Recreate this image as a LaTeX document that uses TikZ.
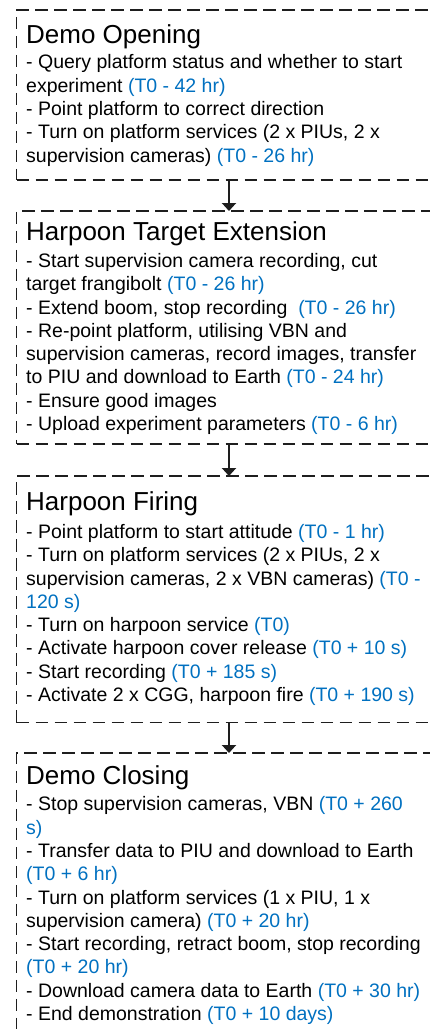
\documentclass[tikz,border=0pt]{standalone}
\usepackage{fontspec}
\setmainfont{Liberation Sans}
\usetikzlibrary{arrows.meta,positioning}
\definecolor{ink}{RGB}{30,30,30}
\definecolor{tblue}{RGB}{0,112,192}
\tikzset{
  phase/.style={draw=ink,line width=1.3pt,dash pattern=on 12.5pt off 6.5pt,
    minimum width=424.6pt,inner sep=0pt,outer sep=0pt,anchor=north west},
  phasename/.style={anchor=base west,inner sep=0pt,font=\fontsize{26}{30}\selectfont},
  % base of a multi-line node is its last line
  steps/.style={anchor=base west,inner sep=0pt,align=left,
    font=\fontsize{19.5}{23.3}\selectfont},
  flow/.style={-{Triangle[width=14pt,length=8pt]},line width=2pt,ink},
}
\newcommand{\tm}[1]{\textcolor{tblue}{#1}}

\begin{document}
\begin{tikzpicture}[x=1pt,y=1pt]
\useasboundingbox (0,0) rectangle (430,-1029);
\clip (0,0) rectangle (430,-1029);
% the four phases of the demonstration
\node[phase,minimum height=170pt] (open) at (16.7,-10) {};
\node[phase,minimum height=233pt] (ext) at (16.7,-211) {};
\node[phase,minimum height=246.7pt] (fire) at (16.7,-476) {};
\node[phase,minimum height=292pt] (close) at (16.7,-753) {};

\node[phasename] (opentitle) at (26,-43.5) {Demo Opening};
\node[steps] (opensteps) at (26,-162) {%
  - Query platform status and whether to start\\
  experiment \tm{(T0 - 42 hr)}\\
  - Point platform to correct direction\\
  - Turn on platform services (2 x PIUs, 2 x\\
  supervision cameras) \tm{(T0 - 26 hr)}};

\node[phasename] (exttitle) at (26,-240) {Harpoon Target Extension};
\node[steps] (extsteps) at (26,-430.5) {%
  - Start supervision camera recording, cut\\
  target frangibolt \tm{(T0 - 26 hr)}\\
  - Extend boom, stop recording\ \ \tm{(T0 - 26 hr)}\\
  - Re-point platform, utilising VBN and\\
  supervision cameras, record images, transfer\\
  to PIU and download to Earth \tm{(T0 - 24 hr)}\\
  - Ensure good images\\
  - Upload experiment parameters \tm{(T0 - 6 hr)}};

\node[phasename] (firetitle) at (26,-510) {Harpoon Firing};
\node[steps] (firesteps) at (26,-701.5) {%
  - Point platform to start attitude \tm{(T0 - 1 hr)}\\
  - Turn on platform services (2 x PIUs, 2 x\\
  supervision cameras, 2 x VBN cameras) \tm{(T0 -}\\
  \tm{120 s)}\\
  - Turn on harpoon service \tm{(T0)}\\
  - Activate harpoon cover release \tm{(T0 + 10 s)}\\
  - Start recording \tm{(T0 + 185 s)}\\
  - Activate 2 x CGG, harpoon fire \tm{(T0 + 190 s)}};

\node[phasename] (closetitle) at (26,-784) {Demo Closing};
\node[steps] (closesteps) at (26,-1020.5) {%
  - Stop supervision cameras, VBN \tm{(T0 + 260}\\
  \tm{s)}\\
  - Transfer data to PIU and download to Earth\\
  \tm{(T0 + 6 hr)}\\
  - Turn on platform services (1 x PIU, 1 x\\
  supervision camera) \tm{(T0 + 20 hr)}\\
  - Start recording, retract boom, stop recording\\
  \tm{(T0 + 20 hr)}\\
  - Download camera data to Earth \tm{(T0 + 30 hr)}\\
  - End demonstration \tm{(T0 + 10 days)}};

% flow between phases
\draw[flow] (open.south) -- (ext.north);
\draw[flow] (ext.south) -- (fire.north);
\draw[flow] (fire.south) -- (close.north);
\end{tikzpicture}
\end{document}
